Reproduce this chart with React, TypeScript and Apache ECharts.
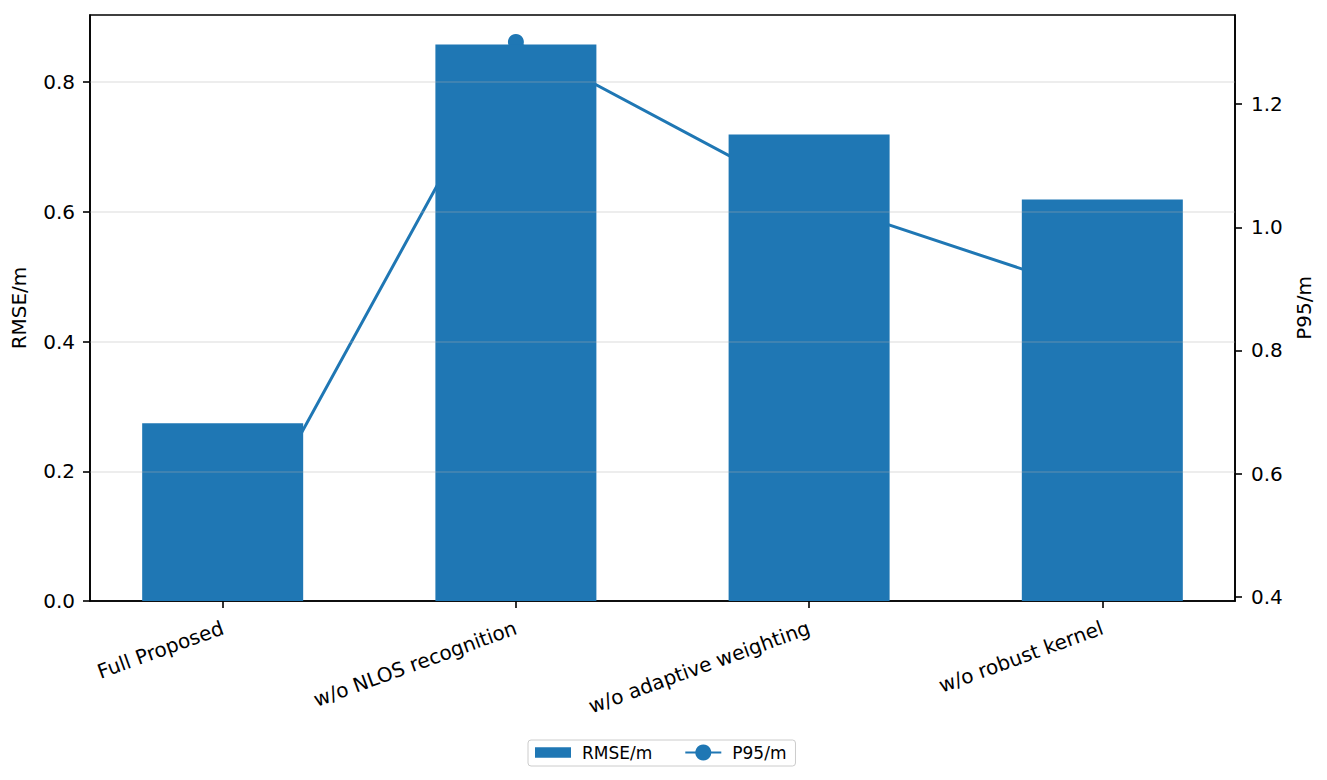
import React, { useEffect, useRef } from "react";
import * as echarts from "echarts";

const categories = [
  "Full Proposed",
  "w/o NLOS recognition",
  "w/o adaptive weighting",
  "w/o robust kernel",
];
const rmseValues = [0.274, 0.858, 0.719, 0.619];
const p95Values = [0.433, 1.301, 1.047, 0.889];
const leftTicks = [0, 0.2, 0.4, 0.6, 0.8];
const rightTicks = [0.4, 0.6, 0.8, 1.0, 1.2];
const gridValues = [0.2, 0.4, 0.6, 0.8];
const xTicks = [0, 1, 2, 3];

const FONT = "DejaVu Sans";
const FS = 20;
const LEG_FS = 17;
const BLUE = "#1f77b4";

export default function App() {
  const ref = useRef<HTMLDivElement>(null);
  useEffect(() => {
    if (!ref.current) return;
    const chart = echarts.init(ref.current, undefined, { renderer: "svg" });
    const axisLine = { show: true, onZero: false, lineStyle: { color: "#000", width: 1.6 } };
    const tickStyle = { color: "#000", width: 1.6 };
    const labelStyle = { color: "#000", fontSize: FS, fontFamily: FONT };
    chart.setOption({
      animation: false,
      backgroundColor: "#fff",
      textStyle: { fontFamily: FONT },
      grid: {
        left: 90,
        right: 92,
        top: 15,
        bottom: 179,
        show: true,
        borderColor: "#000",
        borderWidth: 1.6,
        backgroundColor: "transparent",
      },
      legend: {
        top: 740,
        left: 528,
        data: [
          { name: "RMSE/m", icon: "path://M0,0 L34,0 L34,10 L0,10 Z" },
          { name: "P95/m" },
        ],
        itemWidth: 36,
        itemHeight: 20,
        itemGap: 32,
        borderColor: "#cccccc",
        borderWidth: 1,
        borderRadius: 3,
        padding: [4, 9, 5, 7],
        textStyle: { color: "#000", fontSize: LEG_FS, fontFamily: FONT, padding: [0, 0, 0, 6] },
      },
      xAxis: {
        type: "value",
        min: -0.4525,
        max: 3.4525,
        axisLine,
        axisTick: { show: true, customValues: xTicks, length: 7, lineStyle: tickStyle },
        axisLabel: {
          ...labelStyle,
          customValues: xTicks,
          formatter: (v: number) => categories[Math.round(v)] ?? "",
          rotate: 20,
          margin: 26,
        },
        splitLine: { show: false },
      },
      yAxis: [
        {
          type: "value",
          position: "left",
          min: 0,
          max: 0.9034,
          axisLine,
          axisTick: { show: true, customValues: leftTicks, length: 7, lineStyle: tickStyle },
          axisLabel: {
            ...labelStyle,
            customValues: leftTicks,
            formatter: (v: number) => v.toFixed(1),
            margin: 15,
          },
          splitLine: { show: false },
          name: "RMSE/m",
          nameLocation: "middle",
          nameGap: 61,
          nameRotate: 90,
          nameTextStyle: labelStyle,
        },
        {
          type: "value",
          position: "right",
          min: 0.3932,
          max: 1.3448,
          axisLine,
          axisTick: { show: true, customValues: rightTicks, length: 7, lineStyle: tickStyle },
          axisLabel: {
            ...labelStyle,
            customValues: rightTicks,
            formatter: (v: number) => v.toFixed(1),
            margin: 16,
          },
          splitLine: { show: false },
          name: "P95/m",
          nameLocation: "middle",
          nameGap: 58,
          nameRotate: 90,
          nameTextStyle: labelStyle,
        },
      ],
      series: [
        {
          name: "RMSE/m",
          type: "bar",
          xAxisIndex: 0,
          yAxisIndex: 0,
          data: categories.map((_, i) => [i, rmseValues[i]]),
          barWidth: 161,
          itemStyle: { color: BLUE },
          z: 3,
          markLine: {
            silent: true,
            symbol: "none",
            label: { show: false },
            lineStyle: { color: "rgba(176,176,176,0.3)", width: 1.5, type: "solid" },
            emphasis: { disabled: true },
            data: gridValues.map((v) => ({ yAxis: v })),
          },
        },
        {
          name: "P95/m",
          type: "line",
          xAxisIndex: 0,
          yAxisIndex: 1,
          data: categories.map((_, i) => [i, p95Values[i]]),
          symbol: "circle",
          symbolSize: 16,
          lineStyle: { color: BLUE, width: 3 },
          itemStyle: { color: BLUE },
          z: 1,
        },
      ],
    });
    return () => chart.dispose();
  }, []);
  return (
    <div
      ref={ref}
      style={{ position: "absolute", left: 0, top: 0, width: 1327, height: 780 }}
    />
  );
}
